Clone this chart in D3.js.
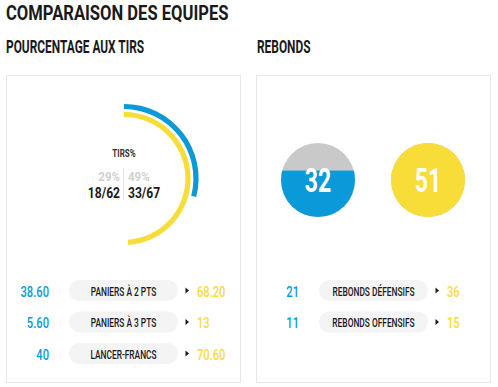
<!DOCTYPE html>
<html>
<head>
<meta charset="utf-8">
<script src="https://cdn.jsdelivr.net/npm/d3@7"></script>
<style>
  html, body { margin: 0; padding: 0; background: #fff; }
  svg { display: block; }
</style>
</head>
<body>
<svg id="chart" width="498" height="387"></svg>
<script>
const shotPct = [29, 49];
const shotMade = ["18/62", "33/67"];
const shotCats = ["PANIERS À 2 PTS", "PANIERS À 3 PTS", "LANCER-FRANCS"];
const shotHome = ["38.60", "5.60", "40"];
const shotAway = ["68.20", "13", "70.60"];

const rebTotals = [32, 51];
const rebCats = ["REBONDS DÉFENSIFS", "REBONDS OFFENSIFS"];
const rebHome = ["21", "11"];
const rebAway = ["36", "15"];

const BLUE = "#0a9ad9";
const YELLOW = "#f8dc37";
const GREY = "#c9c9c9";
const DARK = "#1a1a1a";
const FONT = "Roboto, 'DejaVu Sans', sans-serif";

const svg = d3.select("#chart");

// condensed text: squeeze horizontally to mimic a narrow display face
function label(parent, x, y, str, o = {}) {
  const g = parent.append("g")
    .attr("transform", `translate(${x},${y}) scale(${o.sx || 0.72},1)`);
  return g.append("text")
    .attr("text-anchor", o.anchor || "start")
    .attr("font-family", FONT)
    .attr("font-size", o.size || 12)
    .attr("font-weight", o.weight || 700)
    .attr("fill", o.fill || DARK)
    .text(str);
}

label(svg, 6, 20, "COMPARAISON DES EQUIPES", { size: 21, sx: 0.79 });
label(svg, 6, 53, "POURCENTAGE AUX TIRS", { size: 17.5, sx: 0.68 });
label(svg, 257, 53, "REBONDS", { size: 17.5, sx: 0.68 });

// panels
const panels = [[6.5, 240.5], [256.5, 490.5]];
svg.selectAll("rect.panel")
  .data(panels)
  .join("rect")
  .attr("class", "panel")
  .attr("x", (d) => d[0])
  .attr("y", 75.5)
  .attr("width", (d) => d[1] - d[0])
  .attr("height", 307)
  .attr("fill", "#fff")
  .attr("stroke", "#e8e8e8");

// shooting arcs
const cx = 124, cy = 178.5;
const angle = d3.scaleLinear().domain([0, 100]).range([0, 2 * Math.PI]);
const radii = [72, 64];
const colors = [BLUE, YELLOW];
const arc = d3.arc();
const arcs = svg.append("g").attr("transform", `translate(${cx},${cy})`);
shotPct.forEach((p, i) => {
  arcs.append("path")
    .attr("d", arc({ innerRadius: radii[i] - 2.6, outerRadius: radii[i] + 2.6, startAngle: 0, endAngle: angle(p) }))
    .attr("fill", colors[i]);
});

label(svg, cx, 157, "TIRS%", { size: 11.5, sx: 0.7, anchor: "middle", fill: "#333" });
svg.append("line")
  .attr("x1", cx - 0.5).attr("x2", cx - 0.5)
  .attr("y1", 168).attr("y2", 200)
  .attr("stroke", "#e2e2e2");
shotPct.forEach((p, i) => {
  const x = i === 0 ? cx - 4 : cx + 4;
  const anchor = i === 0 ? "end" : "start";
  label(svg, x, 181, p + "%", { size: 13.5, sx: 0.85, anchor, fill: "#d0d0d0" });
  label(svg, x, 198, shotMade[i], { size: 15.5, sx: 0.78, anchor, fill: DARK });
});

function rows(cats, home, away, x0, yScale) {
  cats.forEach((c, i) => {
    const y = yScale(c);
    label(svg, x0 + 43, y + 6, home[i], { size: 15.5, sx: 0.72, anchor: "end", weight: 500, fill: BLUE });
    svg.append("rect")
      .attr("x", x0 + 63).attr("y", y - 10.5)
      .attr("width", 109).attr("height", 21)
      .attr("rx", 10.5)
      .attr("fill", "#f4f4f4");
    label(svg, x0 + 117.5, y + 5, c, { size: 13.5, sx: 0.62, anchor: "middle", weight: 500, fill: DARK });
    svg.append("path")
      .attr("d", `M${x0 + 179.5},${y - 3}L${x0 + 183},${y}L${x0 + 179.5},${y + 3}Z`)
      .attr("fill", DARK);
    label(svg, x0 + 191, y + 6, away[i], { size: 15.5, sx: 0.72, weight: 500, fill: YELLOW });
  });
}

const shotY = d3.scalePoint().domain(shotCats).range([290.5, 353.5]);
rows(shotCats, shotHome, shotAway, 6, shotY);
const rebY = d3.scalePoint().domain(rebCats).range([290.5, 322]);
rows(rebCats, rebHome, rebAway, 256, rebY);

// rebound circles
const r = 37;
const circX = [318, 428];
const circY = 180;
const fillY = d3.scaleLinear().domain([0, d3.max(rebTotals)]).range([circY + r, circY - r]);
const defs = svg.append("defs");
rebTotals.forEach((v, i) => {
  defs.append("clipPath").attr("id", "clip" + i)
    .append("circle").attr("cx", circX[i]).attr("cy", circY).attr("r", r);
  const g = svg.append("g").attr("clip-path", `url(#clip${i})`);
  g.append("rect")
    .attr("x", circX[i] - r).attr("y", circY - r)
    .attr("width", 2 * r).attr("height", 2 * r)
    .attr("fill", GREY);
  g.append("rect")
    .attr("x", circX[i] - r).attr("y", fillY(v))
    .attr("width", 2 * r).attr("height", circY + r - fillY(v))
    .attr("fill", colors[i]);
  label(svg, circX[i], circY + 12, String(v), { size: 33, sx: 0.7, anchor: "middle", fill: "#fff" });
});
</script>
</body>
</html>
